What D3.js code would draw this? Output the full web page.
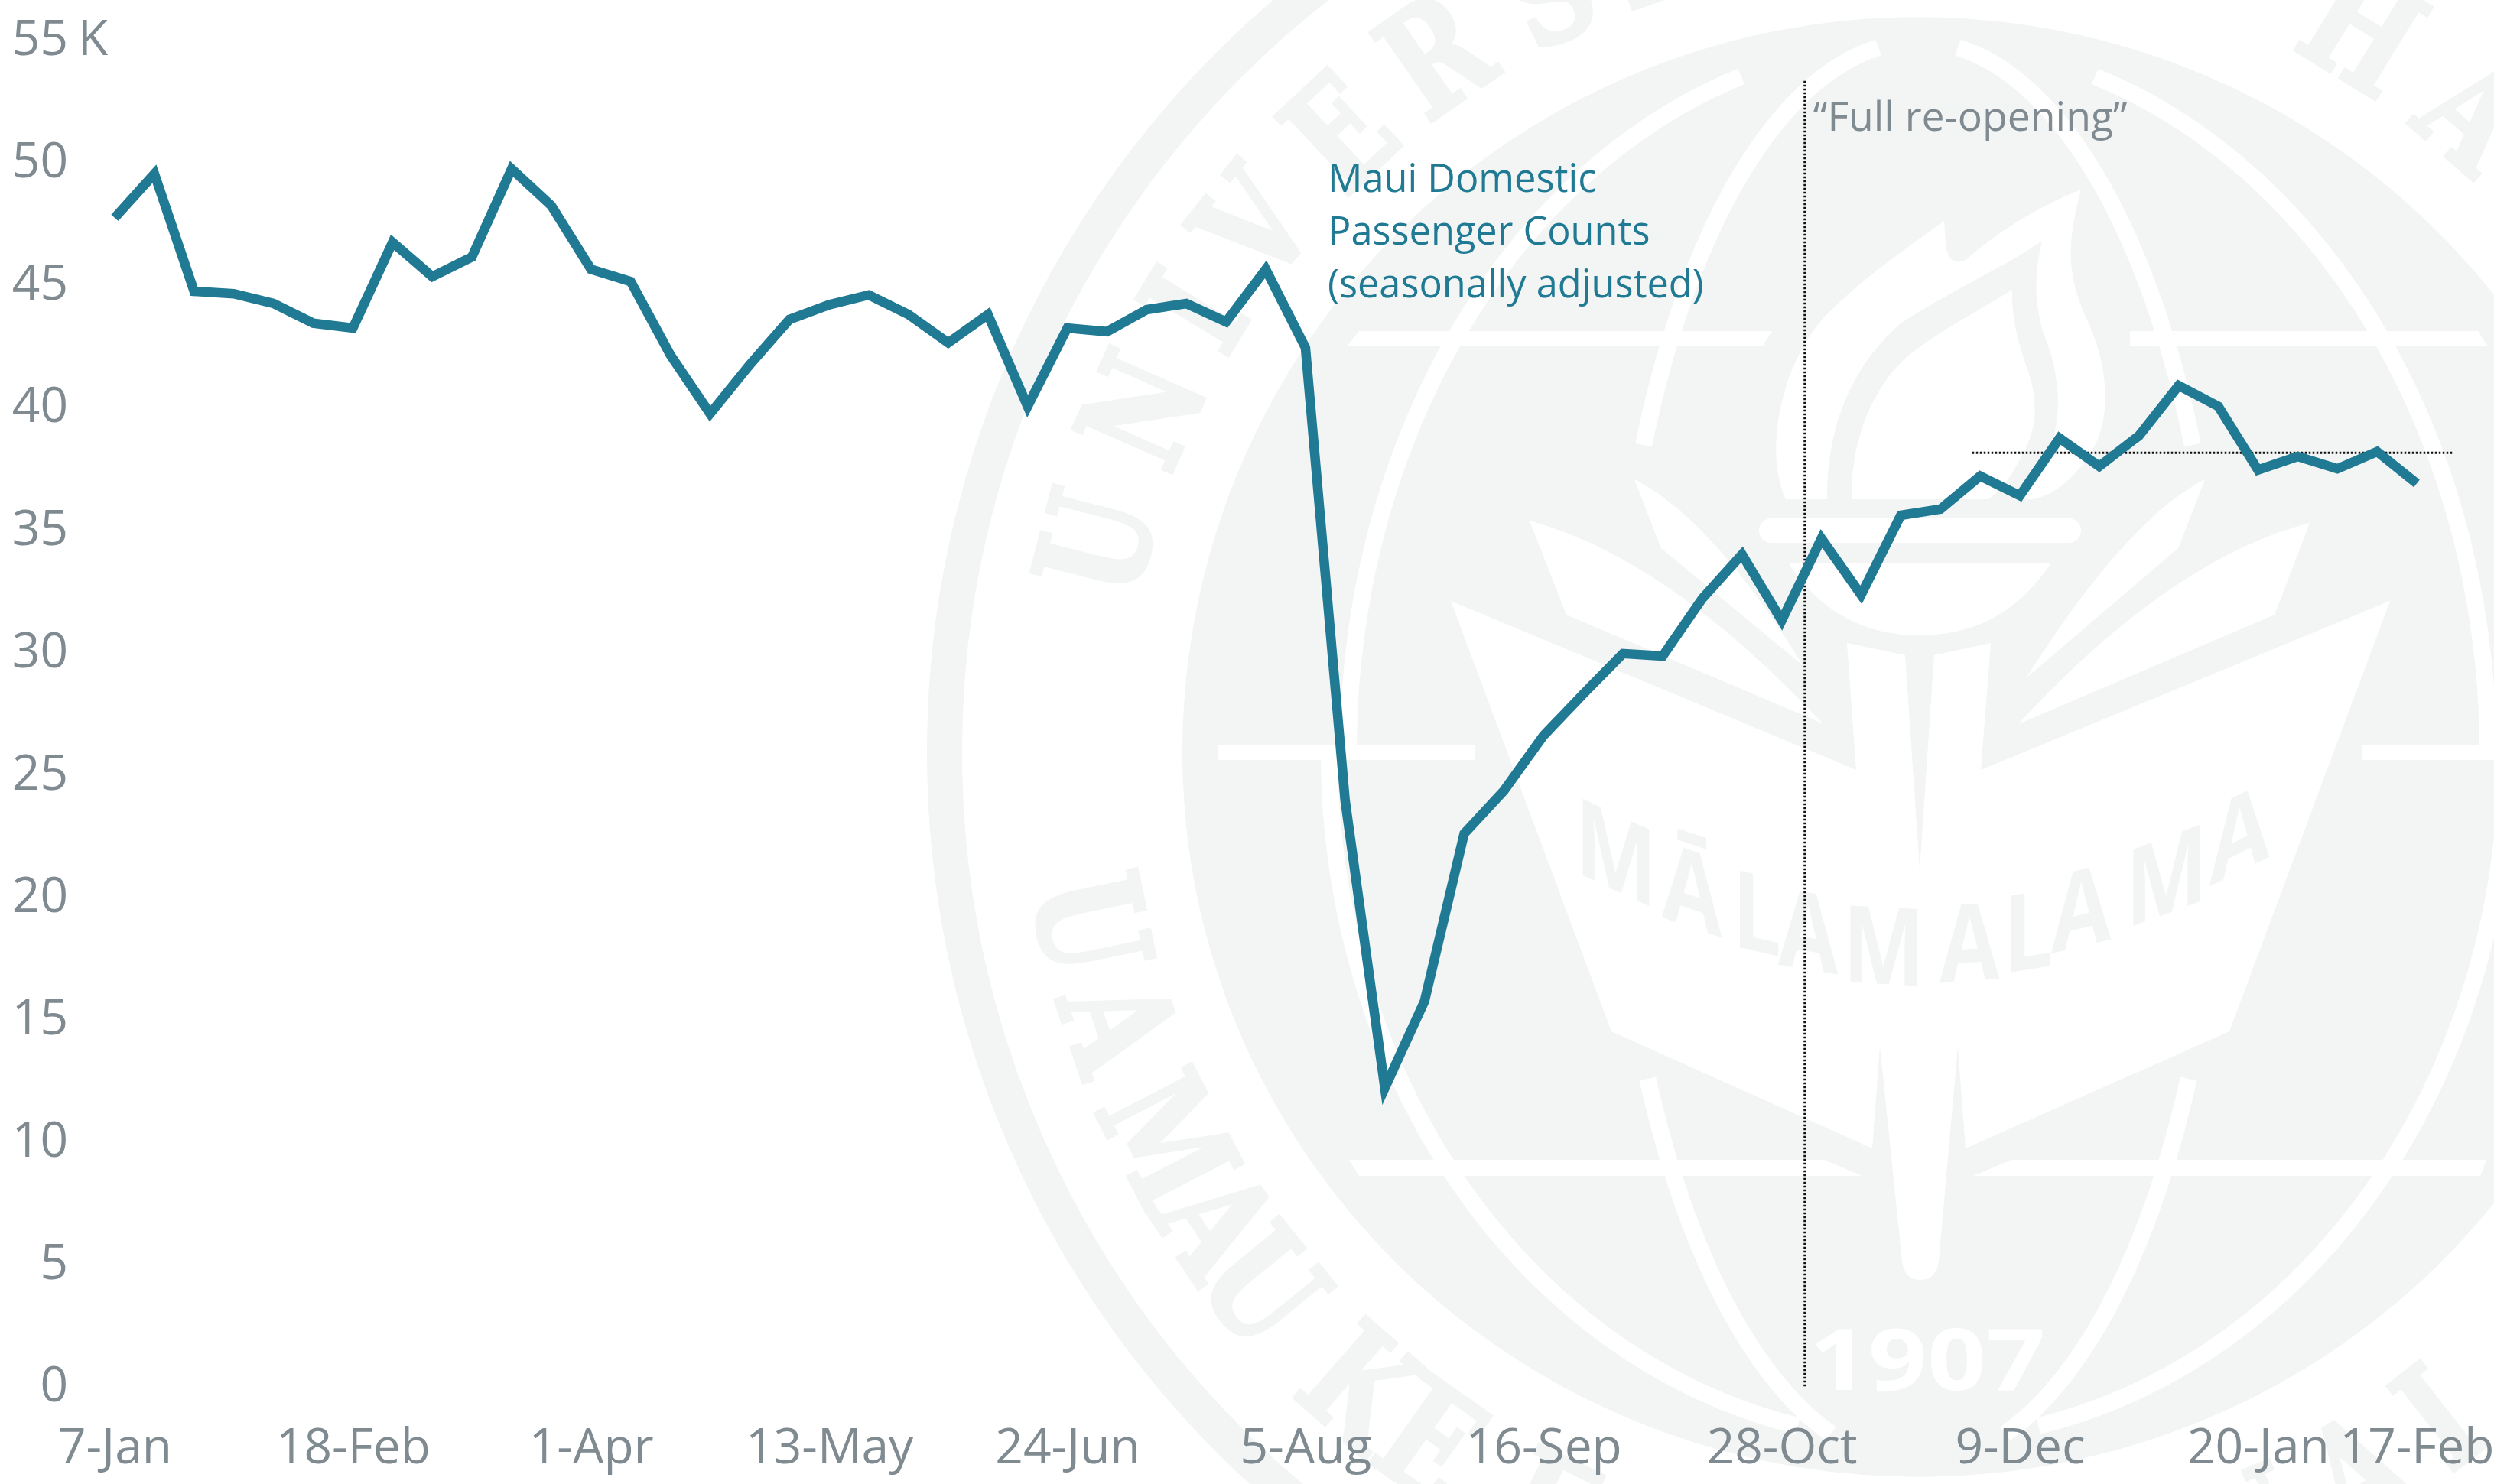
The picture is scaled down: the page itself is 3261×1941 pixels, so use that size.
<!DOCTYPE html>
<html>
<head>
<meta charset="utf-8">
<title>Maui Domestic Passenger Counts</title>
<script src="https://cdn.jsdelivr.net/npm/d3@7"></script>
<style>
	html, body { margin: 0; padding: 0; background: #fff; }
	svg { display: block; }
	text { font-family: "Open Sans", sans-serif; }
</style>
</head>
<body>
<div id="chart"></div>
<script>
// weekly categories, 7-Jan through 17-Feb of the next year
const weeks = [
	'7-Jan', '14-Jan', '21-Jan', '28-Jan', '4-Feb', '11-Feb', '18-Feb', '25-Feb',
	'4-Mar', '11-Mar', '18-Mar', '25-Mar', '1-Apr', '8-Apr', '15-Apr', '22-Apr', '29-Apr',
	'6-May', '13-May', '20-May', '27-May', '3-Jun', '10-Jun', '17-Jun', '24-Jun',
	'1-Jul', '8-Jul', '15-Jul', '22-Jul', '29-Jul', '5-Aug', '12-Aug', '19-Aug', '26-Aug',
	'2-Sep', '9-Sep', '16-Sep', '23-Sep', '30-Sep', '7-Oct', '14-Oct', '21-Oct', '28-Oct',
	'4-Nov', '11-Nov', '18-Nov', '25-Nov', '2-Dec', '9-Dec', '16-Dec', '23-Dec', '30-Dec',
	'6-Jan', '13-Jan', '20-Jan', '27-Jan', '3-Feb', '10-Feb', '17-Feb'
];
// thousands of passengers, seasonally adjusted
const passengers = [
	47.6, 49.4, 44.6, 44.5, 44.1, 43.3, 43.1, 46.6, 45.2, 46.0,
	49.6, 48.1, 45.5, 45.0, 42.0, 39.6, 41.6, 43.45, 44.05, 44.45,
	43.65, 42.5, 43.65, 39.9, 43.1, 42.95, 43.85, 44.1, 43.35, 45.5,
	42.3, 23.8, 12.05, 15.6, 22.45, 24.2, 26.45, 28.15, 29.8, 29.7,
	32.05, 33.85, 31.15, 34.5, 32.2, 35.45, 35.7, 37.05, 36.25, 38.6,
	37.45, 38.7, 40.75, 39.9, 37.3, 37.85, 37.35, 38.05, 36.75
];
const xTickLabels = ['7-Jan', '18-Feb', '1-Apr', '13-May', '24-Jun', '5-Aug', '16-Sep', '28-Oct', '9-Dec', '20-Jan', '17-Feb'];
const yTicks = [0, 5, 10, 15, 20, 25, 30, 35, 40, 45, 50, 55];
const seriesLabel = ['Maui Domestic', 'Passenger Counts', '(seasonally adjusted)'];
const reopeningLabel = '\u201CFull re-opening\u201D';
const reopeningWeek = '28-Oct', reopeningOffset = 0.58, reopeningTop = 53.2;
const referenceLevel = 38, referenceFrom = '25-Nov', referenceFromOffset = 0.8, referenceToOffset = 0.9;

const width = 3261, height = 1941;
const teal = '#217a94', grey = '#7f8a91', sealGrey = '#f3f5f5';

const svg = d3.select('#chart').append('svg')
	.attr('width', width)
	.attr('height', height);

drawSeal(svg.append('g').attr('class', 'seal'));

const x = d3.scalePoint().domain(weeks).range([150, 3160]);
const y = d3.scaleLinear().domain([0, 55]).range([1809, 48]);
const step = x.step();

const xAxis = svg.append('g')
	.attr('transform', 'translate(0,1892)')
	.call(d3.axisBottom(x).tickValues(xTickLabels).tickSize(0).tickPadding(0));
const yAxis = svg.append('g')
	.attr('transform', 'translate(89,0)')
	.call(d3.axisLeft(y).tickValues(yTicks).tickSize(0).tickPadding(0));

[xAxis, yAxis].forEach(axis => {
	axis.select('.domain').remove();
	axis.selectAll('text')
		.attr('fill', grey)
		.style('font-family', '"Open Sans", sans-serif')
		.style('font-size', '64px');
});
xAxis.selectAll('text').attr('y', 0).attr('dy', '0.34em');
yAxis.selectAll('text').attr('dy', '0.37em');

// the unit sits on its own next to the top tick
svg.append('text')
	.attr('x', 102)
	.attr('y', y(55))
	.attr('dy', '0.37em')
	.attr('fill', grey)
	.style('font-size', '64px')
	.text('K');

// dotted guides
const reopeningX = x(reopeningWeek) + reopeningOffset * step;
svg.append('line')
	.attr('x1', reopeningX).attr('x2', reopeningX)
	.attr('y1', y(reopeningTop)).attr('y2', y(-0.2))
	.attr('stroke', '#111')
	.attr('stroke-width', 3)
	.attr('stroke-dasharray', '2.5 2.5');
svg.append('line')
	.attr('x1', x(referenceFrom) + referenceFromOffset * step)
	.attr('x2', x(weeks[weeks.length - 1]) + referenceToOffset * step)
	.attr('y1', y(referenceLevel)).attr('y2', y(referenceLevel))
	.attr('stroke', '#111')
	.attr('stroke-width', 3)
	.attr('stroke-dasharray', '2.5 2.5');

const line = d3.line()
	.x((d, i) => x(weeks[i]))
	.y(d => y(d));

svg.append('path')
	.datum(passengers)
	.attr('d', line)
	.attr('fill', 'none')
	.attr('stroke', teal)
	.attr('stroke-width', 12.5)
	.attr('stroke-linejoin', 'miter')
	.attr('stroke-miterlimit', 10);

svg.selectAll('.series-label')
	.data(seriesLabel)
	.join('text')
	.attr('class', 'series-label')
	.attr('x', 1736)
	.attr('y', (d, i) => 251 + i * 69)
	.attr('fill', teal)
	.style('font-size', '50.5px')
	.text(d => d);

svg.append('text')
	.attr('x', reopeningX + 11)
	.attr('y', 171)
	.attr('fill', grey)
	.style('font-size', '53.5px')
	.text(reopeningLabel);

// University seal behind the chart, only a faint backdrop
function drawSeal(g) {
	const cx = 2508, cy = 984;
	g.append('circle').attr('cx', cx).attr('cy', cy).attr('r', 1273)
		.attr('fill', 'none').attr('stroke', sealGrey).attr('stroke-width', 46);
	g.append('path')
		.attr('d', `M${cx - 962},${cy} A962,962 0 0 1 ${cx + 962},${cy} A962,948 0 0 1 ${cx - 962},${cy} Z`)
		.attr('fill', sealGrey);

	// ring lettering, one glyph at a time; what falls off the page is skipped
	const ringFont = 'font-family:"DejaVu Serif",serif;font-weight:700;font-size:172px';
	const ringLetter = (c, angle, r, flip) => {
		const rad = angle * Math.PI / 180;
		const px = cx + (flip ? -1 : 1) * r * Math.sin(rad), py = cy - (flip ? -1 : 1) * r * Math.cos(rad);
		if (py < -10 || py > height + 130 || px > width + 70) return;
		g.append('text')
			.attr('transform', `translate(${cx},${cy}) rotate(${angle}) translate(0,${flip ? r : -r}) scale(0.84,1.12)`)
			.attr('text-anchor', 'middle')
			.attr('style', ringFont)
			.attr('fill', sealGrey)
			.attr('stroke', sealGrey)
			.attr('stroke-width', 5)
			.text(c);
	};
	const topLetters = Array.from('UNIVERSITYOFHAWAII');
	const topAngles = [-75.7, -66.2, -58.6, -51.6, -43, -34.7, -25.9, -19.5, -12.7, -4.6, 8.8, 17.2, 31.6, 41, 51, 60, 66, 72];
	topLetters.forEach((c, i) => ringLetter(c, topAngles[i], 1041, false));
	const bottomLetters = Array.from('UAMAUKEEAOKA\u0100INAIKAPONO');
	const bottomAngles = [78.3, 71.2, 62.7, 56.1, 50.8, 41.3, 35.3, 26, 20, 10, 1, -5, -12, -17, -23, -31.4, -38, -45, -52, -60, -66, -72, -78];
	bottomLetters.forEach((c, i) => ringLetter(c, bottomAngles[i], 1172, true));

	// latitude bands
	const bands = [
		[[1762, 452], [1777, 433], [2317, 433], [2305, 452]],
		[[2785, 452], [2785, 433], [3240, 433], [3252, 452]],
		[[1592, 994], [1592, 975], [1929, 975], [1929, 994]],
		[[3089, 994], [3089, 975], [3261, 975], [3261, 994]],
		[[1777, 1538], [1764, 1517], [2385, 1517], [2435, 1538]],
		[[2580, 1538], [2630, 1517], [3251, 1517], [3243, 1538]]
	];
	g.selectAll('.band').data(bands).join('polygon')
		.attr('class', 'band')
		.attr('points', d => d.join(' '))
		.attr('fill', '#fff');

	// meridians as half ellipses
	const meridian = (a, b, side, y0, y1) => d3.line()(d3.range(y0, y1, 8).map(py => {
		const t = (py - cy) / b;
		return [cx + side * a * Math.sqrt(Math.max(0, 1 - t * t)), py];
	}));
	const meridians = [
		meridian(398, 930, -1, 62, 588), meridian(398, 930, 1, 62, 588),
		meridian(398, 930, -1, 1411, 1876), meridian(398, 930, 1, 1411, 1876),
		meridian(745, 930, -1, 100, 985), meridian(745, 930, 1, 100, 985),
		meridian(770, 900, -1, 985, 1870), meridian(770, 900, 1, 985, 1870)
	];
	g.selectAll('.meridian').data(meridians).join('path')
		.attr('class', 'meridian')
		.attr('d', d => d)
		.attr('fill', 'none')
		.attr('stroke', '#fff')
		.attr('stroke-width', 22);

	// open book, flame, bowl and leaves
	const whiteShapes = [
		'M1897,786 L2427,1007 L2415,841 L2491,857 L2510,1137 L2529,857 L2603,841 L2590,1007 L3125,786 L2915,1349 L2570,1502 L2560,1368 L2535,1649 Q2532,1674 2511,1674 Q2490,1674 2487,1649 L2458,1368 L2448,1502 L2107,1349 Z',
		'M2335,653 C2305,590 2330,470 2390,410 C2440,360 2500,320 2542,289 L2544,320 Q2548,350 2570,340 Q2640,280 2721,248 C2705,310 2700,350 2725,410 C2760,480 2760,550 2735,590 C2710,630 2680,650 2657,653 Z',
		'M2338,736 L2682,736 Q2620,831 2510,831 Q2400,831 2338,736 Z',
		'M2137,627 Q2240,680 2357,870 L2172,717 Z',
		'M2883,627 Q2780,680 2650,886 L2848,717 Z',
		'M2000,681 Q2180,730 2383,946 L2048,804 Z',
		'M3020,684 Q2840,730 2639,947 L2974,804 Z'
	];
	g.selectAll('.white-shape').data(whiteShapes).join('path')
		.attr('class', 'white-shape')
		.attr('d', d => d)
		.attr('fill', '#fff');
	g.append('rect').attr('x', 2300).attr('y', 678).attr('width', 421).attr('height', 32).attr('rx', 16).attr('fill', '#fff');
	g.append('path')
		.attr('d', 'M2389,653 C2388,560 2420,480 2485,423 C2560,375 2620,350 2670,315 C2660,360 2660,390 2670,430 C2690,480 2700,530 2680,590 Q2668,630 2640,653 Z')
		.attr('fill', sealGrey);
	g.append('path')
		.attr('d', 'M2421,653 C2420,580 2445,510 2495,465 C2540,430 2590,405 2631,379 C2630,420 2640,450 2650,480 C2665,520 2665,560 2644,595 Q2625,635 2600,653 Z')
		.attr('fill', '#fff');

	// motto letters follow the dip of the book, sheared so their stems stay upright
	const mottoLetters = Array.from('M\u0100LAMALAMA');
	const mottoX = [2113, 2212, 2297, 2364, 2463, 2575, 2652, 2721, 2833, 2928];
	const mottoY = [1165, 1213, 1244, 1268, 1287, 1283, 1268, 1238, 1195, 1140];
	mottoLetters.forEach((c, i) => {
		g.append('text')
			.attr('transform', `translate(${mottoX[i]},${mottoY[i]}) skewY(${(mottoX[i] - 2510) * -0.0625}) scale(0.95,1.17)`)
			.attr('text-anchor', 'middle')
			.attr('fill', sealGrey)
			.attr('style', 'font-weight:700;font-size:120px')
			.text(c);
	});

	g.append('text')
		.attr('x', 2520)
		.attr('y', 1818)
		.attr('text-anchor', 'middle')
		.attr('fill', '#fff')
		.attr('textLength', 309)
		.attr('lengthAdjust', 'spacingAndGlyphs')
		.attr('style', 'font-weight:700;font-size:112px')
		.text('1907');
}
</script>
</body>
</html>
